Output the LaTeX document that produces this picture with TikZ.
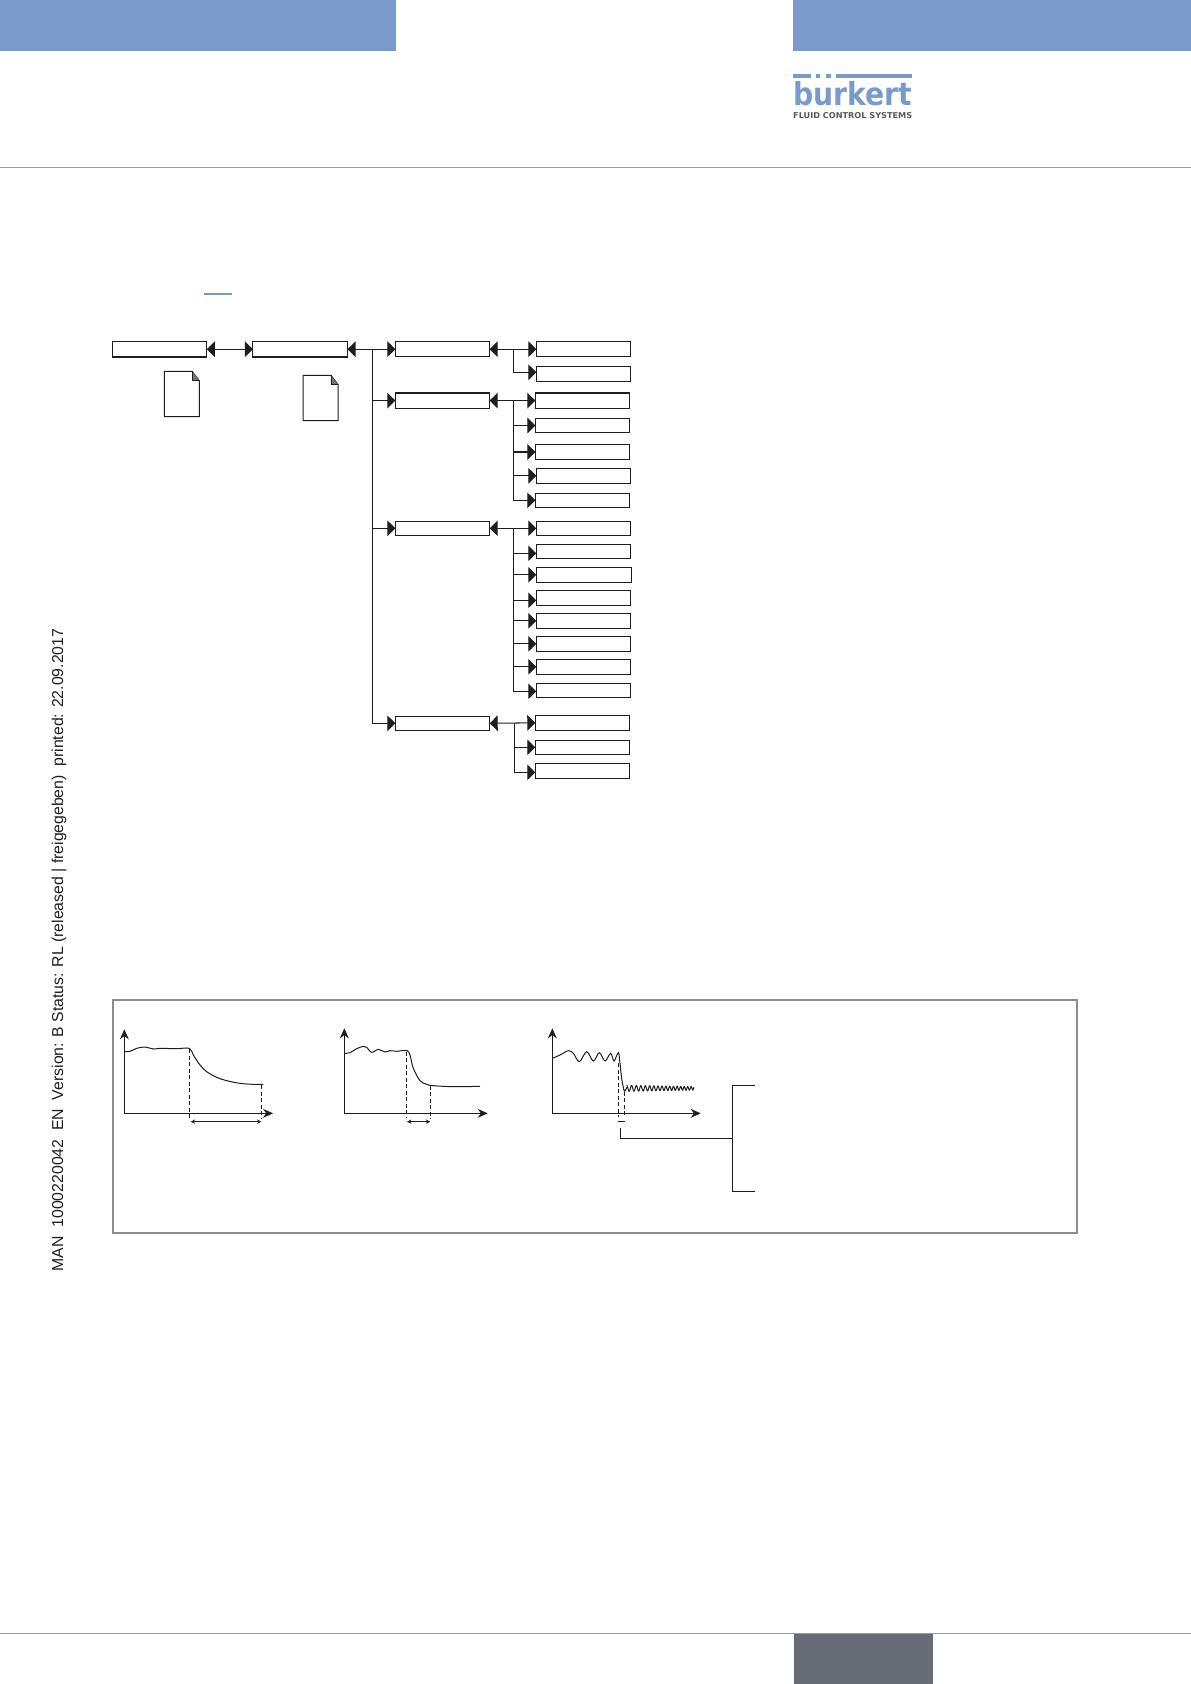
\documentclass[tikz,border=0pt]{standalone}
\usepackage{fontspec}
\setmainfont{Liberation Sans}
\newfontfamily\logofont{DejaVu Sans}
\usetikzlibrary{arrows.meta}
\definecolor{band}{HTML}{7A9ACB}
\definecolor{ink}{HTML}{1E1E1E}
\definecolor{rulegrey}{HTML}{9A9A9A}
\definecolor{framegrey}{HTML}{8C8C8C}
\definecolor{pagebox}{HTML}{666B75}
\definecolor{logotext}{HTML}{55595F}
\tikzset{
  menubox/.style={draw=ink,line width=1.1pt,fill=white,inner sep=0pt,outer sep=0pt,anchor=north west},
  wire/.style={draw=ink,line width=1.05pt},
  headR/.style={wire,-{Triangle[length=8pt,width=15.5pt]}},
  headB/.style={wire,{Triangle[length=8pt,width=15.5pt]}-{Triangle[length=8pt,width=15.5pt]}},
  chartaxis/.style={draw=ink,line width=1pt},
  curve/.style={draw=ink,line width=1pt,smooth,tension=0.55},
  guide/.style={draw=ink,line width=0.85pt,dash pattern=on 4pt off 2.5pt},
  span/.style={draw=ink,line width=0.85pt,{Stealth[length=4.5pt,width=4.5pt]}-{Stealth[length=4.5pt,width=4.5pt]}},
  page/.style={draw=ink,line width=1pt,fill=white},
}
\newcommand{\mbx}[5]{\node[menubox,minimum width={(#4-#2)*1pt},minimum height={(#5-#3)*1pt}] (#1) at (#2,#3) {};}
\newcommand{\pageicon}[2]{%
  \draw[page] (#1,#2) -- ++(27.7,0) -- ++(7.3,9.4) -- ++(0,36) -- ++(-35,0) -- cycle;
  \fill[black!55] (#1+27.7,#2) -- ++(7.3,9.4) -- ++(-7.3,0) -- cycle;
  \draw[draw=ink,line width=0.8pt] (#1+27.7,#2) -- ++(0,9.4) -- ++(7.3,0);
}
\begin{document}
\begin{tikzpicture}[x=1pt,y=-1pt]
\useasboundingbox (0,0) rectangle (1191,1684);
% header / footer
\fill[band] (0,0) rectangle (396,50.5);
\fill[band] (793,0) rectangle (1191,50.5);
\draw[rulegrey,line width=1pt] (0,167) -- (1191,167);
\draw[rulegrey,line width=1pt] (0,1633.5) -- (1191,1633.5);
\fill[pagebox] (794,1634) rectangle (933,1684);
% logo
\fill[band] (793,74) rectangle (810.7,77.5);
\fill[band] (815.7,74) rectangle (820,77.5);
\fill[band] (825.7,74) rectangle (830.7,77.5);
\fill[band] (836,74) rectangle (912,77.5);
\node[inner sep=0pt,anchor=south west,text=band] (logoword) at (793,106) {\resizebox{119pt}{24.5pt}{\logofont\bfseries bürkert}};
\fill[white] (805,80) rectangle (840,87.4);
\node[inner sep=0pt,anchor=south west,text=logotext] (logotag) at (793,118.5) {\resizebox{119pt}{6pt}{\logofont\bfseries FLUID CONTROL SYSTEMS}};
% side text
\node[rotate=90,inner sep=0pt,font=\fontsize{15.8pt}{17pt}\selectfont,text=ink] (sidetext) at (59,950) {MAN\ \ 1000220042\ \ EN\ \ Version: B Status: RL (released | freigegeben)\ \ printed: 22.09.2017};
% link underline
\draw[color=band!85!gray,line width=1.6pt] (204,294) -- (231.8,294);
% tree boxes
\mbx{A}{112.1}{341.4}{206.8}{357}
\mbx{B}{252.9}{341.4}{347.5}{357}
\mbx{C1}{395.4}{341.8}{489.6}{356.6}
\mbx{C2}{395.4}{393}{489.6}{408.2}
\mbx{C3}{395.4}{521.3}{489.7}{535.3}
\mbx{C4}{395.4}{716.3}{489.7}{730.3}
\mbx{La}{536.4}{341.8}{630.7}{356.6}
\mbx{Lb}{536.4}{366.3}{630.7}{381.3}
\mbx{Lc}{535.4}{393}{629.6}{408.2}
\mbx{Ld}{535.4}{418.3}{629.6}{432.7}
\mbx{Le}{535.4}{444.3}{629.6}{459.7}
\mbx{Lf}{536.4}{468.3}{630.7}{483.3}
\mbx{Lg}{535.4}{493.3}{629.6}{507.3}
\mbx{Ma}{536.3}{521.3}{630.7}{535.3}
\mbx{Mb}{536.3}{544.3}{630.7}{558.3}
\mbx{Mc}{536.3}{567.3}{631.7}{582.3}
\mbx{Md}{536.3}{590.3}{630.7}{605.3}
\mbx{Me}{536.3}{613.3}{630.7}{628.3}
\mbx{Mf}{536.3}{636.3}{630.7}{651.3}
\mbx{Mg}{536.3}{659.3}{630.7}{674.3}
\mbx{Mh}{536.3}{683.3}{630.7}{697.3}
\mbx{Na}{535.3}{715.3}{629.7}{730.3}
\mbx{Nb}{535.3}{740.3}{629.7}{754.3}
\mbx{Nc}{535.3}{763.3}{629.7}{778.3}
% junctions
\coordinate (trunk) at (372.6,349.2);
\coordinate (j1) at (513.3,349.2);
\coordinate (j2) at (513.3,400.6);
\coordinate (j3) at (513.7,428.3+100);
\coordinate (j4) at (514.3,723.3);
% connectors
\draw[headB] (A.east) -- (B.west);
\draw[headB] (B.east) -- (C1.west);
\draw[wire] (trunk) -- (trunk |- C4.west);
\draw[headR] (trunk) |- (C2.west);
\draw[headR] (trunk) |- (C3.west);
\draw[headR] (trunk) |- (C4.west);
\draw[headB] (C1.east) -- (La.west);
\draw[headB] (C2.east) -- (Lc.west);
\draw[headB] (C3.east) -- (Ma.west);
\draw[headB] (C4.east) -- (Na.west);
\draw[headR] (j1) |- ([yshift=1.5pt]Lb.west);
\draw[headR] (j2) |- (Ld.west);
\draw[headR] (j2) |- (Le.west);
\draw[headR] (j2) |- (Lf.west);
\draw[headR] (j2) |- (Lg.west);
\draw[headR] (j3) |- ([yshift=-2pt]Mb.west);
\draw[headR] (j3) |- (Mc.west);
\draw[headR] (j3) |- ([yshift=-2.5pt]Md.west);
\draw[headR] (j3) |- (Me.west);
\draw[headR] (j3) |- (Mf.west);
\draw[headR] (j3) |- (Mg.west);
\draw[headR] (j3) |- ([yshift=-1pt]Mh.west);
\draw[headR] (j4) |- (Nb.west);
\draw[headR] (j4) |- ([yshift=-1.5pt]Nc.west);
% document icons
\pageicon{164.3}{371.3}
\pageicon{303.2}{375.3}
% frame
\draw[framegrey,line width=2pt] (113,1000) rectangle (1077,1233);
% charts 1 and 2, in crop units
\begin{scope}[shift={(100,990)},x=0.33333pt,y=-0.33333pt]
  \draw[chartaxis,-{Stealth[length=10pt,width=9pt]}] (73,370) -- (73,118);
  \draw[chartaxis,-{Stealth[length=10pt,width=9pt]}] (73,370) -- (519,370);
  \draw[curve] plot coordinates {(73,185) (90,184) (110,175) (135,171) (160,177) (180,175) (230,176) (268,175) (280,195) (300,225) (320,245) (350,262) (380,272) (420,280) (460,283) (490,283)};
  \draw[guide] (268,178) -- (268,388);
  \draw[guide] (484,285) -- (484,385);
  \draw[span] (272,395) -- (484,395);
  \draw[chartaxis,-{Stealth[length=10pt,width=9pt]}] (733,370) -- (733,115);
  \draw[chartaxis,-{Stealth[length=10pt,width=9pt]}] (733,370) -- (1163,370);
  \draw[curve] plot coordinates {(733,190) (750,188) (770,176) (790,169) (800,172) (815,187) (835,178) (855,186) (870,182) (890,184) (905,182) (922,182) (930,195) (940,235) (960,272) (980,283) (1000,287) (1060,290) (1140,289)};
  \draw[guide] (919,185) -- (919,385);
  \draw[guide] (991,287) -- (991,385);
  \draw[span] (921,395) -- (991,395);
\end{scope}
% chart 3
\begin{scope}[shift={(520,1010)},x=0.33333pt,y=-0.33333pt]
  \draw[chartaxis,-{Stealth[length=10pt,width=9pt]}] (97,310) -- (97,55);
  \draw[chartaxis,-{Stealth[length=10pt,width=9pt]}] (97,310) -- (542,310);
  \draw[curve] plot coordinates {(97,145) (120,135) (145,122) (160,130) (178,155) (200,125) (220,153) (238,128) (255,153) (272,130) (282,153) (295,128) (300,160) (305,205) (313,243) (320,232)};
  \draw[draw=ink,line width=1pt,smooth] plot[domain=320:522,samples=220] (\x,{235+(9-4*(\x-320)/200)*sin(24*(\x-320)+0.03*(\x-320)*(\x-320)-90)});
  \draw[guide] (295,160) -- (295,322);
  \draw[guide] (313,245) -- (313,322);
  \draw[draw=ink,line width=0.85pt] (295,334) -- (315,334);
  \coordinate (tapstart) at (301,355);
  \coordinate (tapend) at (637,385);
  \coordinate (brtop) at (705,227);
  \coordinate (brbot) at (705,544);
  \draw[wire] (tapstart) |- (tapend);
  \draw[wire] (brtop) -| (tapend) |- (brbot);
\end{scope}
\end{tikzpicture}
\end{document}
